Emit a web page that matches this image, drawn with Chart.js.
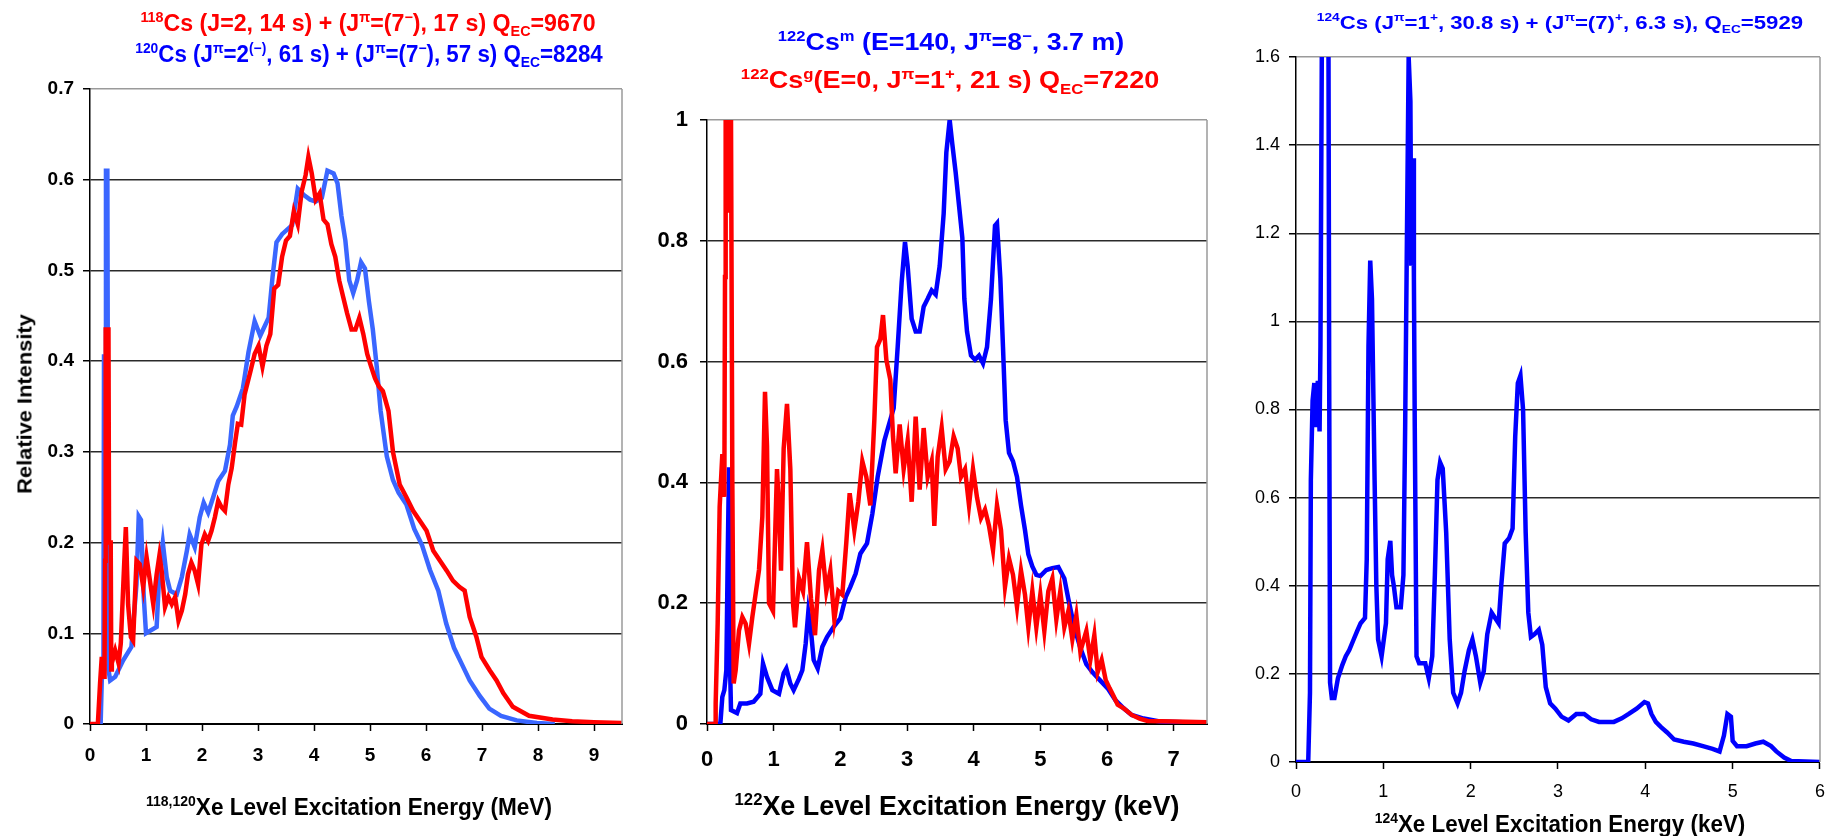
<!DOCTYPE html>
<html>
<head>
<meta charset="utf-8">
<script src="https://cdn.jsdelivr.net/npm/chart.js@4.4.1/dist/chart.umd.min.js"></script>
<style>
  body { margin: 0; background: #fff; }
  #page { position: relative; width: 1837px; height: 836px; overflow: hidden; background: #fff; }
  canvas { position: absolute; top: 0; }
  .lbl { position: absolute; white-space: nowrap; font-family: 'Liberation Sans', Arial, sans-serif; font-weight: bold; transform-origin: center; line-height: 1; }
  .lbl sup, .lbl sub { font-size: 0.62em; line-height: 0; }
</style>
</head>
<body>
<div id="page">
  <canvas id="c1" width="640" height="836" style="left:0px"></canvas>
  <canvas id="c2" width="600" height="836" style="left:620px"></canvas>
  <canvas id="c3" width="617" height="836" style="left:1220px"></canvas>
</div>
<script>
// ---- panel 1 : 118Cs (red) and 120Cs (blue) -> 118,120Xe, MeV
const e118 = [0, 0.14, 0.18, 0.21, 0.25, 0.26, 0.27, 0.28, 0.33, 0.34, 0.37, 0.38, 0.39, 0.45, 0.51, 0.55, 0.61, 0.64, 0.68, 0.73, 0.77, 0.83, 0.89, 0.95, 1.01, 1.07, 1.13, 1.19, 1.24, 1.28, 1.34, 1.40, 1.46, 1.52, 1.58, 1.64, 1.70, 1.75, 1.81, 1.87, 1.93, 1.99, 2.05, 2.11, 2.17, 2.23, 2.29, 2.35, 2.41, 2.47, 2.53, 2.59, 2.64, 2.70, 2.76, 2.87, 2.94, 3.01, 3.08, 3.15, 3.22, 3.29, 3.36, 3.43, 3.50, 3.57, 3.64, 3.71, 3.78, 3.85, 3.90, 3.96, 4.03, 4.10, 4.17, 4.24, 4.31, 4.38, 4.45, 4.52, 4.59, 4.67, 4.74, 4.81, 4.88, 4.95, 5.02, 5.09, 5.16, 5.23, 5.33, 5.41, 5.53, 5.65, 5.77, 5.89, 6.01, 6.13, 6.25, 6.37, 6.48, 6.60, 6.69, 6.78, 6.90, 6.99, 7.14, 7.26, 7.38, 7.55, 7.84, 8.26, 8.61, 9.0, 9.5];
const i118 = [0, 0, 0.045, 0.074, 0.052, 0.07, 0.18, 0.435, 0.435, 0.2, 0.2, 0.06, 0.067, 0.081, 0.067, 0.089, 0.176, 0.217, 0.132, 0.096, 0.092, 0.18, 0.176, 0.151, 0.184, 0.158, 0.132, 0.165, 0.186, 0.169, 0.129, 0.14, 0.132, 0.14, 0.114, 0.125, 0.143, 0.165, 0.178, 0.169, 0.154, 0.198, 0.209, 0.202, 0.213, 0.228, 0.246, 0.239, 0.235, 0.264, 0.282, 0.31, 0.331, 0.33, 0.363, 0.39, 0.408, 0.417, 0.394, 0.417, 0.43, 0.48, 0.484, 0.515, 0.533, 0.538, 0.565, 0.551, 0.587, 0.605, 0.625, 0.607, 0.578, 0.585, 0.556, 0.551, 0.529, 0.515, 0.489, 0.471, 0.453, 0.435, 0.435, 0.448, 0.43, 0.408, 0.394, 0.381, 0.372, 0.367, 0.345, 0.3, 0.264, 0.25, 0.235, 0.224, 0.213, 0.191, 0.18, 0.169, 0.158, 0.151, 0.147, 0.118, 0.096, 0.074, 0.059, 0.048, 0.034, 0.019, 0.009, 0.005, 0.003, 0.002, 0.001];
const e120 = [0.19, 0.21, 0.24, 0.25, 0.28, 0.285, 0.31, 0.33, 0.36, 0.45, 0.59, 0.74, 0.83, 0.87, 0.91, 0.96, 1.0, 1.19, 1.24, 1.30, 1.37, 1.43, 1.55, 1.64, 1.73, 1.78, 1.87, 1.96, 2.03, 2.11, 2.20, 2.29, 2.41, 2.50, 2.55, 2.62, 2.73, 2.83, 2.94, 3.04, 3.19, 3.26, 3.33, 3.43, 3.61, 3.71, 3.82, 3.93, 4.03, 4.14, 4.24, 4.35, 4.42, 4.49, 4.56, 4.63, 4.70, 4.77, 4.84, 4.91, 4.98, 5.05, 5.12, 5.19, 5.30, 5.41, 5.51, 5.65, 5.79, 5.93, 6.07, 6.22, 6.36, 6.50, 6.64, 6.78, 6.96, 7.13, 7.34, 7.62, 7.98, 8.3];
const i120 = [0, 0.048, 0.06, 0.405, 0.405, 0.61, 0.61, 0.06, 0.048, 0.052, 0.07, 0.085, 0.154, 0.229, 0.225, 0.14, 0.1, 0.107, 0.169, 0.2, 0.162, 0.147, 0.143, 0.162, 0.191, 0.209, 0.195, 0.228, 0.244, 0.233, 0.25, 0.268, 0.279, 0.308, 0.34, 0.35, 0.37, 0.41, 0.444, 0.428, 0.448, 0.493, 0.531, 0.54, 0.55, 0.59, 0.583, 0.578, 0.576, 0.58, 0.61, 0.607, 0.596, 0.56, 0.533, 0.489, 0.475, 0.489, 0.509, 0.502, 0.466, 0.435, 0.394, 0.345, 0.295, 0.269, 0.255, 0.242, 0.215, 0.197, 0.17, 0.147, 0.111, 0.084, 0.066, 0.048, 0.031, 0.017, 0.009, 0.004, 0.001, 0];
const xTicks1 = [0, 1, 2, 3, 4, 5, 6, 7, 8, 9];
const yTicks1 = [0, 0.1, 0.2, 0.3, 0.4, 0.5, 0.6, 0.7];

// ---- panel 2 : 122Cs isomer (blue) and ground state (red) -> 122Xe
const e122m = [0, 0.2, 0.23, 0.26, 0.29, 0.31, 0.33, 0.345, 0.36, 0.45, 0.5, 0.6, 0.7, 0.8, 0.84, 0.9, 0.98, 1.08, 1.15, 1.19, 1.25, 1.3, 1.38, 1.43, 1.48, 1.52, 1.55, 1.6, 1.66, 1.73, 1.8, 1.9, 2.0, 2.08, 2.15, 2.23, 2.3, 2.4, 2.48, 2.56, 2.66, 2.8, 2.86, 2.92, 2.97, 3.01, 3.07, 3.13, 3.19, 3.25, 3.31, 3.37, 3.43, 3.49, 3.55, 3.59, 3.64, 3.68, 3.73, 3.78, 3.83, 3.86, 3.9, 3.96, 4.02, 4.08, 4.14, 4.2, 4.26, 4.32, 4.35, 4.4, 4.44, 4.48, 4.53, 4.59, 4.65, 4.71, 4.77, 4.82, 4.88, 4.94, 5.0, 5.09, 5.18, 5.27, 5.36, 5.42, 5.51, 5.6, 5.69, 5.78, 5.89, 6.01, 6.13, 6.25, 6.37, 6.55, 6.79, 7.14, 7.5];
const i122m = [0, 0, 0.045, 0.056, 0.089, 0.27, 0.425, 0.1, 0.023, 0.018, 0.034, 0.034, 0.037, 0.05, 0.1, 0.078, 0.056, 0.05, 0.084, 0.092, 0.067, 0.056, 0.075, 0.089, 0.133, 0.186, 0.166, 0.106, 0.092, 0.128, 0.144, 0.161, 0.175, 0.21, 0.227, 0.249, 0.282, 0.299, 0.348, 0.409, 0.469, 0.523, 0.624, 0.731, 0.798, 0.758, 0.671, 0.65, 0.65, 0.691, 0.704, 0.718, 0.711, 0.758, 0.845, 0.946, 1.0, 0.96, 0.913, 0.859, 0.805, 0.704, 0.65, 0.61, 0.603, 0.61, 0.597, 0.624, 0.704, 0.825, 0.829, 0.738, 0.624, 0.503, 0.449, 0.435, 0.409, 0.362, 0.321, 0.281, 0.261, 0.247, 0.245, 0.255, 0.258, 0.26, 0.241, 0.207, 0.16, 0.126, 0.099, 0.086, 0.073, 0.059, 0.039, 0.026, 0.015, 0.009, 0.004, 0.003, 0.002];
const e122g = [0, 0.12, 0.13, 0.16, 0.19, 0.23, 0.26, 0.27, 0.28, 0.3, 0.31, 0.36, 0.38, 0.4, 0.43, 0.48, 0.53, 0.58, 0.63, 0.68, 0.73, 0.78, 0.83, 0.87, 0.9, 0.93, 0.99, 1.05, 1.08, 1.11, 1.15, 1.2, 1.25, 1.29, 1.32, 1.38, 1.44, 1.5, 1.56, 1.62, 1.68, 1.73, 1.79, 1.85, 1.91, 1.97, 2.03, 2.09, 2.14, 2.21, 2.27, 2.33, 2.39, 2.45, 2.51, 2.55, 2.6, 2.64, 2.69, 2.75, 2.79, 2.83, 2.89, 2.95, 3.01, 3.07, 3.13, 3.19, 3.25, 3.31, 3.37, 3.41, 3.46, 3.52, 3.58, 3.64, 3.7, 3.76, 3.81, 3.87, 3.93, 3.99, 4.05, 4.11, 4.17, 4.23, 4.29, 4.35, 4.41, 4.47, 4.53, 4.59, 4.65, 4.71, 4.77, 4.82, 4.88, 4.94, 5.0, 5.06, 5.12, 5.18, 5.24, 5.3, 5.36, 5.42, 5.48, 5.54, 5.6, 5.69, 5.75, 5.81, 5.86, 5.92, 5.98, 6.04, 6.1, 6.16, 6.25, 6.37, 6.49, 6.61, 7.02, 7.5];
const i122g = [0, 0, 0.034, 0.166, 0.36, 0.447, 0.376, 0.74, 1.0, 0.85, 1.0, 1.0, 0.4, 0.067, 0.089, 0.155, 0.177, 0.166, 0.133, 0.177, 0.216, 0.255, 0.343, 0.55, 0.46, 0.2, 0.187, 0.422, 0.355, 0.254, 0.456, 0.53, 0.422, 0.2, 0.16, 0.241, 0.22, 0.301, 0.207, 0.147, 0.254, 0.288, 0.22, 0.254, 0.173, 0.22, 0.214, 0.301, 0.382, 0.321, 0.368, 0.435, 0.409, 0.362, 0.503, 0.624, 0.637, 0.677, 0.603, 0.57, 0.476, 0.415, 0.496, 0.422, 0.469, 0.368, 0.509, 0.388, 0.49, 0.409, 0.435, 0.328, 0.442, 0.49, 0.422, 0.435, 0.476, 0.456, 0.409, 0.422, 0.362, 0.422, 0.375, 0.341, 0.355, 0.328, 0.288, 0.362, 0.321, 0.227, 0.274, 0.247, 0.194, 0.254, 0.214, 0.16, 0.22, 0.16, 0.214, 0.154, 0.22, 0.241, 0.173, 0.22, 0.16, 0.187, 0.14, 0.18, 0.12, 0.154, 0.106, 0.147, 0.086, 0.106, 0.073, 0.059, 0.046, 0.032, 0.026, 0.015, 0.009, 0.005, 0.004, 0.003];
const xTicks2 = [0, 1, 2, 3, 4, 5, 6, 7];
const yTicks2 = [0, 0.2, 0.4, 0.6, 0.8, 1];

// ---- panel 3 : 124Cs -> 124Xe
const e124 = [0, 0.14, 0.16, 0.17, 0.19, 0.21, 0.22, 0.25, 0.27, 0.28, 0.3, 0.37, 0.38, 0.39, 0.41, 0.44, 0.48, 0.53, 0.57, 0.61, 0.66, 0.7, 0.74, 0.79, 0.81, 0.83, 0.85, 0.87, 0.9, 0.92, 0.94, 0.98, 1.03, 1.05, 1.08, 1.1, 1.12, 1.15, 1.2, 1.23, 1.25, 1.27, 1.29, 1.31, 1.32, 1.34, 1.35, 1.36, 1.38, 1.41, 1.48, 1.52, 1.56, 1.59, 1.62, 1.65, 1.68, 1.72, 1.76, 1.8, 1.85, 1.89, 1.93, 1.98, 2.02, 2.06, 2.11, 2.15, 2.19, 2.24, 2.28, 2.32, 2.35, 2.39, 2.44, 2.48, 2.51, 2.54, 2.57, 2.6, 2.63, 2.66, 2.69, 2.73, 2.78, 2.82, 2.86, 2.91, 2.97, 3.04, 3.12, 3.21, 3.3, 3.38, 3.47, 3.56, 3.64, 3.73, 3.81, 3.9, 3.99, 4.03, 4.07, 4.12, 4.18, 4.25, 4.33, 4.44, 4.55, 4.66, 4.77, 4.85, 4.9, 4.94, 4.98, 5.0, 5.05, 5.16, 5.26, 5.35, 5.44, 5.5, 5.59, 5.67, 6.0];
const i124 = [0, 0, 0.157, 0.64, 0.82, 0.86, 0.76, 0.865, 0.75, 0.944, 1.8, 1.8, 0.88, 0.18, 0.145, 0.145, 0.19, 0.22, 0.24, 0.254, 0.278, 0.297, 0.315, 0.327, 0.46, 0.944, 1.138, 1.05, 0.64, 0.4, 0.278, 0.24, 0.315, 0.46, 0.502, 0.424, 0.4, 0.351, 0.351, 0.424, 0.762, 1.186, 1.6, 1.5, 1.126, 1.37, 1.1, 0.76, 0.24, 0.224, 0.224, 0.19, 0.24, 0.424, 0.64, 0.68, 0.666, 0.52, 0.278, 0.157, 0.133, 0.157, 0.206, 0.254, 0.278, 0.24, 0.18, 0.206, 0.29, 0.339, 0.327, 0.315, 0.4, 0.496, 0.508, 0.53, 0.738, 0.86, 0.877, 0.8, 0.52, 0.339, 0.284, 0.29, 0.3, 0.266, 0.17, 0.133, 0.121, 0.103, 0.094, 0.109, 0.109, 0.097, 0.091, 0.091, 0.091, 0.099, 0.109, 0.121, 0.136, 0.133, 0.109, 0.091, 0.079, 0.067, 0.051, 0.046, 0.042, 0.036, 0.03, 0.024, 0.06, 0.109, 0.103, 0.048, 0.036, 0.036, 0.042, 0.046, 0.036, 0.024, 0.01, 0.002, 0];
const xTicks3 = [0, 1, 2, 3, 4, 5, 6];
const yTicks3 = [0, 0.2, 0.4, 0.6, 0.8, 1, 1.2, 1.4, 1.6];

const FONT = "'Liberation Sans', Arial, sans-serif";
Chart.defaults.font.family = FONT;
Chart.defaults.color = '#000';

function pts(xs, ys) {
    return xs.map((x, k) => ({ x: x, y: ys[k] }));
}

function serie(xs, ys, color) {
    return {
        data: pts(xs, ys),
        borderColor: color,
        borderWidth: 4.5,
        pointRadius: 0,
        tension: 0,
        fill: false
    };
}

// right border of the plot area, grey like the top gridline
const frame = {
    id: 'frame',
    afterDatasetsDraw(chart) {
        const { ctx, chartArea: a } = chart;
        ctx.save();
        ctx.strokeStyle = '#9a9a9a';
        ctx.lineWidth = 1.5;
        ctx.beginPath();
        ctx.moveTo(a.right, a.top);
        ctx.lineTo(a.right, a.bottom);
        ctx.stroke();
        ctx.restore();
    }
};

function makeChart(id, p) {
    const yMax = p.yTicks[p.yTicks.length - 1];
    return new Chart(document.getElementById(id), {
        type: 'line',
        data: { datasets: p.datasets },
        plugins: [frame],
        options: {
            responsive: false,
            animation: false,
            events: [],
            layout: { padding: { top: p.top, right: p.right, left: 0, bottom: 0 } },
            plugins: { legend: { display: false }, tooltip: { enabled: false }, title: { display: false } },
            scales: {
                x: {
                    type: 'linear',
                    min: 0,
                    max: p.xMax,
                    afterBuildTicks: (s) => { s.ticks = p.xTicks.map(v => ({ value: v })); },
                    afterFit: (s) => { s.height = p.xHeight; },
                    grid: { drawOnChartArea: false, drawTicks: true, tickLength: 7, tickColor: '#000', tickWidth: 1.5 },
                    border: { color: '#000', width: 2 },
                    ticks: {
                        padding: p.xPad,
                        maxRotation: 0,
                        autoSkip: false,
                        font: { size: p.tickSize, weight: p.tickWeight },
                        callback: (v) => String(v)
                    }
                },
                y: {
                    min: 0,
                    max: yMax,
                    afterBuildTicks: (s) => { s.ticks = p.yTicks.map(v => ({ value: v })); },
                    afterFit: (s) => { s.width = p.yWidth; },
                    grid: {
                        drawTicks: true,
                        tickLength: 7,
                        tickColor: '#000',
                        lineWidth: 1.5,
                        color: (c) => (c.tick && c.tick.value === yMax ? '#9a9a9a' : '#2a2a2a')
                    },
                    border: { color: '#000', width: 1.5 },
                    ticks: {
                        padding: p.yPad,
                        font: { size: p.tickSize, weight: p.tickWeight },
                        callback: (v) => String(v)
                    }
                }
            }
        }
    });
}

makeChart('c1', {
    datasets: [serie(e118, i118, '#ff0000'), serie(e120, i120, '#3a66ff')],
    xMax: 9.5, xTicks: xTicks1, yTicks: yTicks1,
    top: 89, right: 18, yWidth: 90, xHeight: 112,
    xPad: 13, yPad: 9, tickSize: 19, tickWeight: 'bold'
});

makeChart('c2', {
    datasets: [serie(e122g, i122g, '#ff0000'), serie(e122m, i122m, '#0000ff')],
    xMax: 7.5, xTicks: xTicks2, yTicks: yTicks2,
    top: 120, right: 13, yWidth: 87, xHeight: 112,
    xPad: 16, yPad: 12, tickSize: 22, tickWeight: 'bold'
});

makeChart('c3', {
    datasets: [serie(e124, i124, '#0000ff')],
    xMax: 6, xTicks: xTicks3, yTicks: yTicks3,
    top: 57, right: 13, yWidth: 76, xHeight: 74,
    xPad: 12, yPad: 9, tickSize: 18, tickWeight: 'normal'
});

// titles and axis titles as html text (superscripts / subscripts)
const texts = [
    { html: '<sup>118</sup>Cs (J=2, 14 s) + (J<sup>π</sup>=(7<sup>−</sup>), 17 s) Q<sub>EC</sub>=9670', cx: 368, cy: 23, w: 455, size: 23, color: '#ff0000' },
    { html: '<sup>120</sup>Cs (J<sup>π</sup>=2<sup>(−)</sup>, 61 s) + (J<sup>π</sup>=(7<sup>−</sup>), 57 s) Q<sub>EC</sub>=8284', cx: 369, cy: 54, w: 468, size: 23, color: '#0000ff' },
    { html: '<sup>122</sup>Cs<sup>m</sup> (E=140, J<sup>π</sup>=8<sup>−</sup>, 3.7 m)', cx: 951, cy: 42, w: 346, size: 24, color: '#0000ff' },
    { html: '<sup>122</sup>Cs<sup>g</sup>(E=0, J<sup>π</sup>=1<sup>+</sup>, 21 s) Q<sub>EC</sub>=7220', cx: 950, cy: 80, w: 419, size: 24, color: '#ff0000' },
    { html: '<sup>124</sup>Cs (J<sup>π</sup>=1<sup>+</sup>, 30.8 s) + (J<sup>π</sup>=(7)<sup>+</sup>, 6.3 s), Q<sub>EC</sub>=5929', cx: 1560, cy: 22, w: 486, size: 19, color: '#0000ff' },
    { html: '<sup>118,120</sup>Xe Level Excitation Energy (MeV)', cx: 349, cy: 807, w: 406, size: 23, color: '#000' },
    { html: '<sup>122</sup>Xe Level Excitation Energy (keV)', cx: 957, cy: 806, w: 445, size: 27, color: '#000' },
    { html: '<sup>124</sup>Xe Level Excitation Energy (keV)', cx: 1560, cy: 824, w: 370, size: 23, color: '#000' },
    { html: 'Relative Intensity', cx: 24, cy: 404, w: 180, size: 21, color: '#000', rot: true }
];

const page = document.getElementById('page');
texts.forEach((t) => {
    const d = document.createElement('div');
    d.className = 'lbl';
    d.innerHTML = t.html;
    d.style.fontSize = t.size + 'px';
    d.style.color = t.color;
    d.style.left = t.cx + 'px';
    d.style.top = t.cy + 'px';
    page.appendChild(d);
    const s = t.w / d.offsetWidth;
    d.style.transform = 'translate(-50%, -50%)' + (t.rot ? ' rotate(-90deg)' : '') + ' scaleX(' + s.toFixed(3) + ')';
});
</script>
</body>
</html>
